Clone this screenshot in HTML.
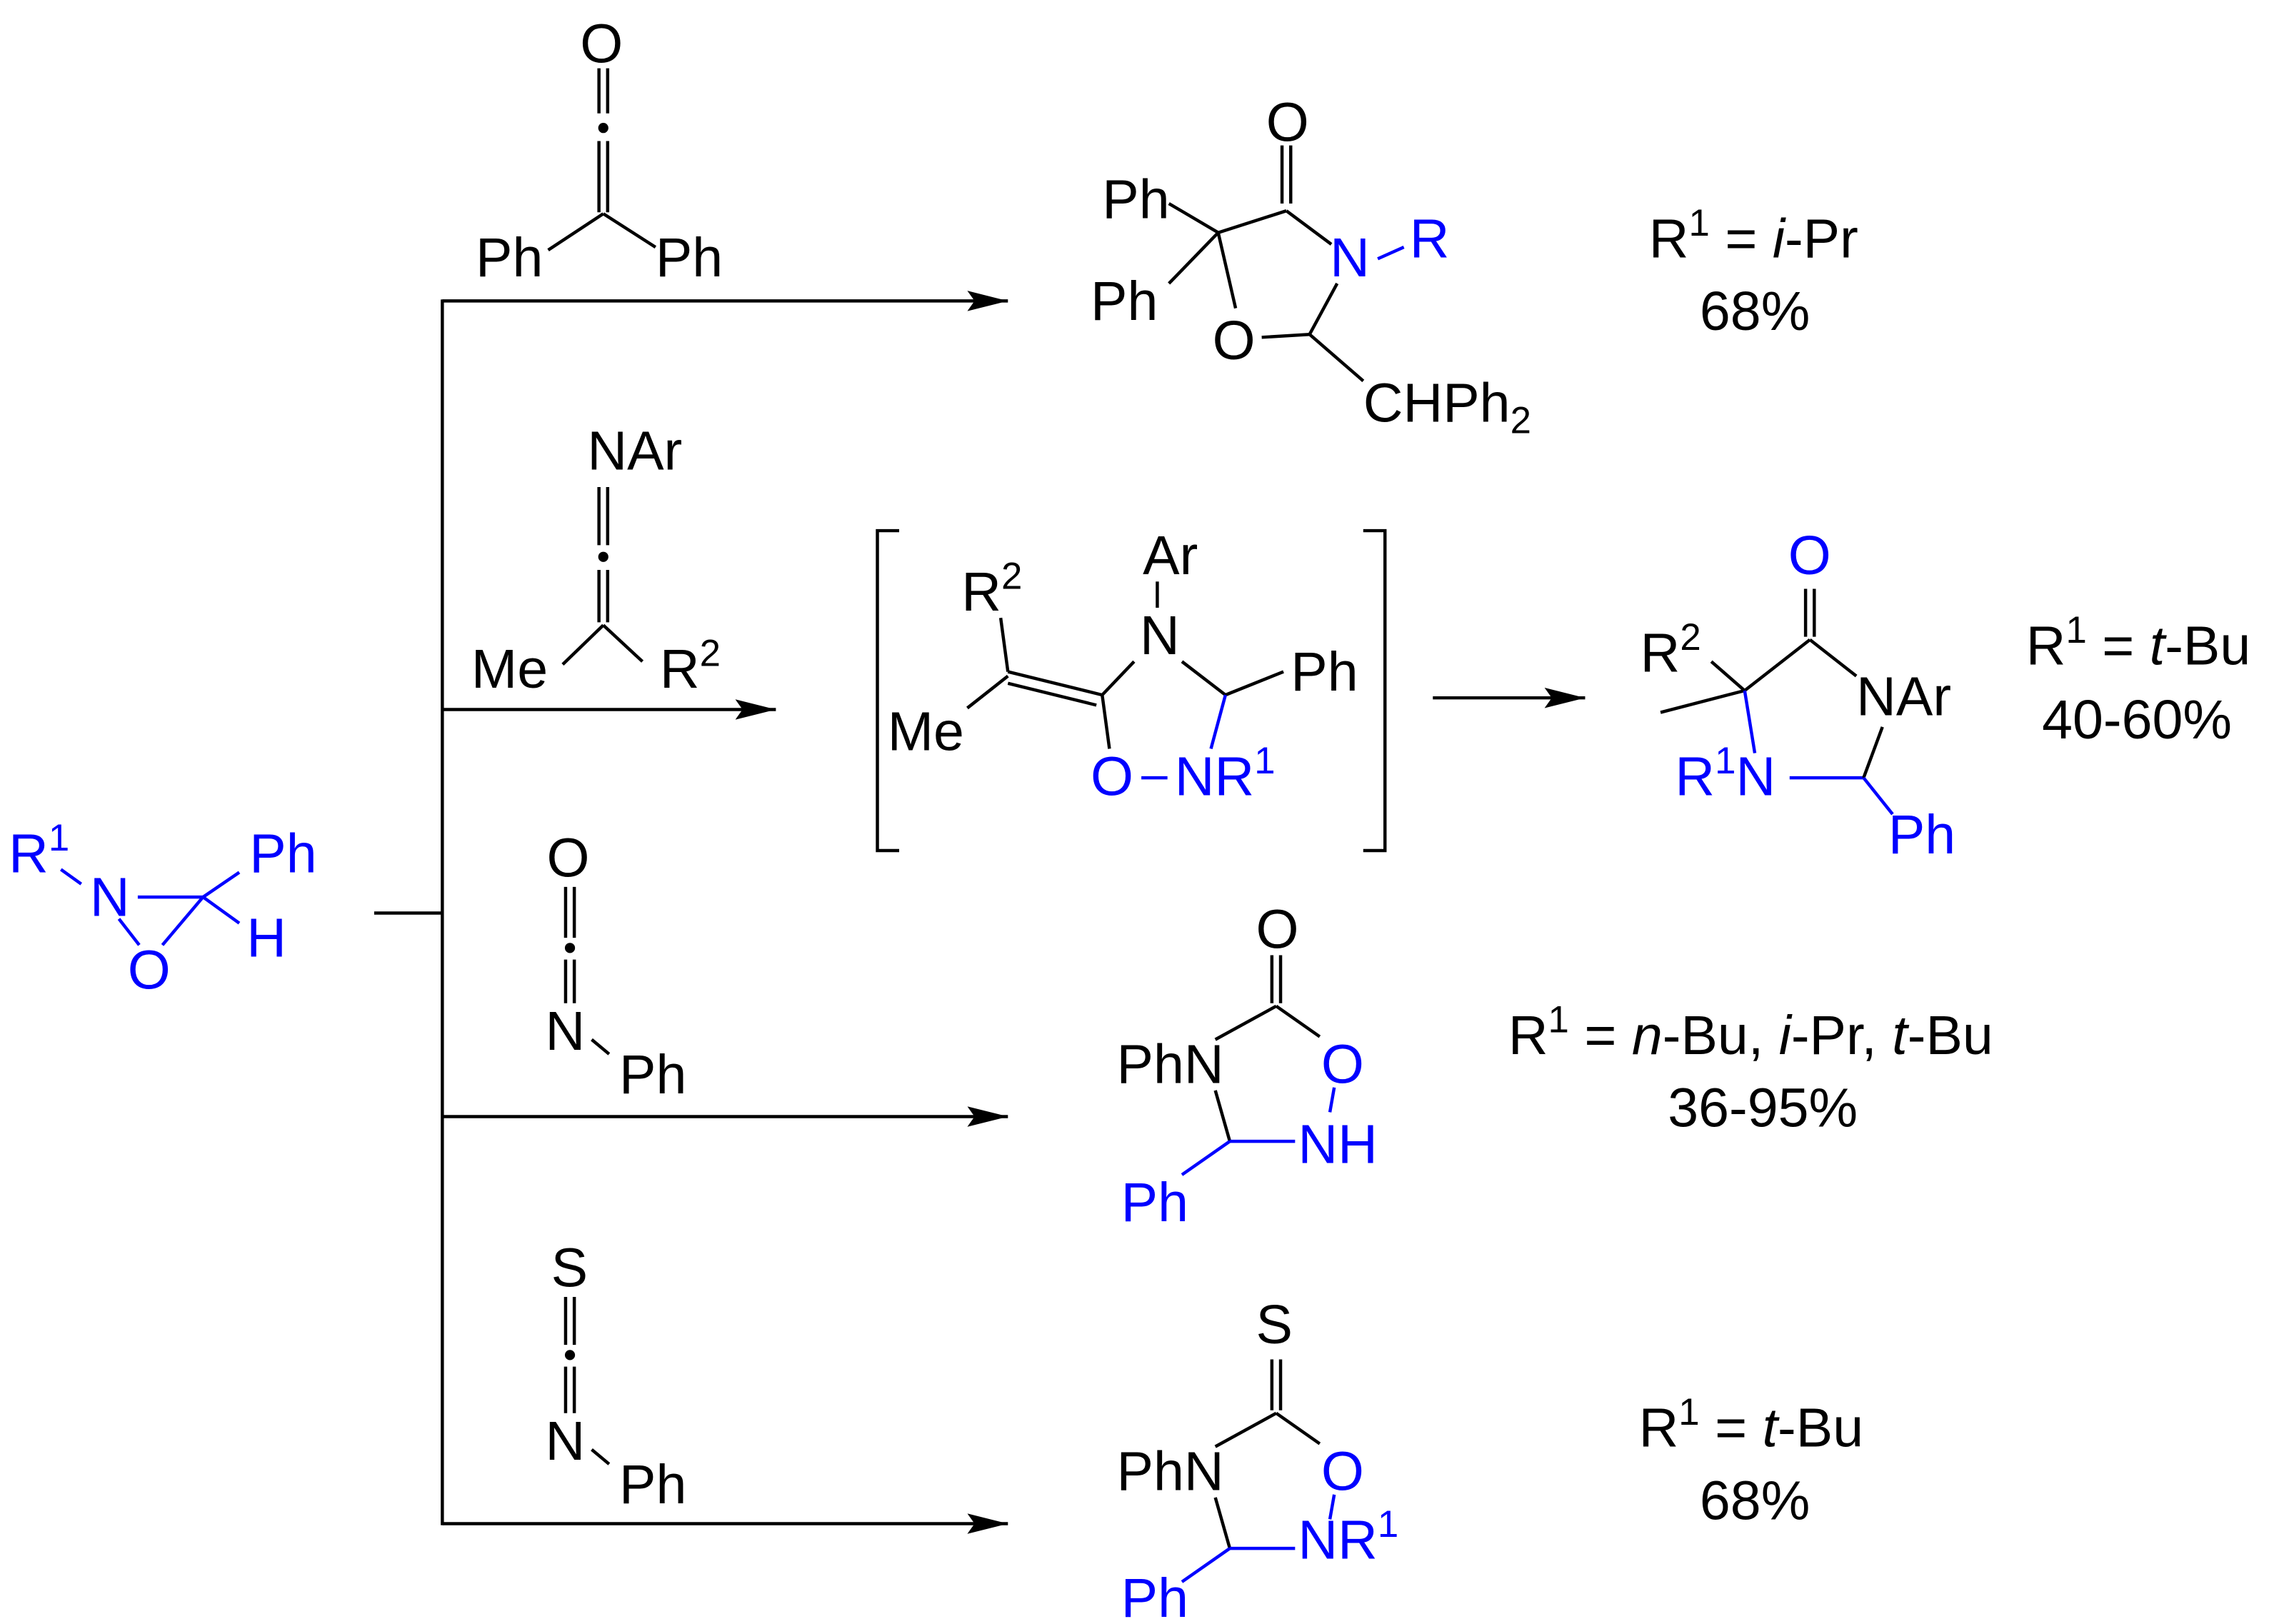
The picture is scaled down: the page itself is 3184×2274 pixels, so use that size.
<!DOCTYPE html>
<html><head><meta charset="utf-8"><style>html,body{margin:0;padding:0;background:#fff}svg{display:block}</style></head>
<body>
<svg width="3184" height="2274" viewBox="0 0 1568 1117" preserveAspectRatio="none" xmlns="http://www.w3.org/2000/svg" font-family="Liberation Sans, Arial, sans-serif" font-size="38">
<defs><marker id="ah" markerWidth="30" markerHeight="14" refX="28" refY="7" orient="auto" markerUnits="userSpaceOnUse"><path d="M0,0 L28,7 L0,14 L5,7 Z" fill="#000"/></marker></defs>
<g stroke="#000" stroke-width="2.2" fill="none">
<line x1="258" y1="628" x2="305" y2="628"/>
<line x1="305" y1="206" x2="305" y2="1049"/>
<line x1="305" y1="207" x2="695" y2="207" marker-end="url(#ah)"/>
<line x1="305" y1="488" x2="535" y2="488" marker-end="url(#ah)"/>
<line x1="305" y1="768" x2="695" y2="768" marker-end="url(#ah)"/>
<line x1="305" y1="1048" x2="695" y2="1048" marker-end="url(#ah)"/>
<line x1="988" y1="480" x2="1093" y2="480" marker-end="url(#ah)"/>
<line x1="413" y1="47" x2="413" y2="78"/><line x1="419" y1="47" x2="419" y2="78"/>
<line x1="413" y1="97" x2="413" y2="146"/><line x1="419" y1="97" x2="419" y2="146"/>
<line x1="416" y1="147" x2="378" y2="172"/><line x1="416" y1="147" x2="452" y2="170"/>
<line x1="413" y1="335" x2="413" y2="375"/><line x1="419" y1="335" x2="419" y2="375"/>
<line x1="413" y1="392" x2="413" y2="428"/><line x1="419" y1="392" x2="419" y2="428"/>
<line x1="416" y1="430" x2="388" y2="457"/><line x1="416" y1="430" x2="443" y2="455"/>
<line x1="390" y1="610" x2="390" y2="645"/><line x1="396" y1="610" x2="396" y2="645"/>
<line x1="390" y1="660" x2="390" y2="690"/><line x1="396" y1="660" x2="396" y2="690"/>
<line x1="408" y1="715" x2="420" y2="725"/>
<line x1="390" y1="892" x2="390" y2="925"/><line x1="396" y1="892" x2="396" y2="925"/>
<line x1="390" y1="940" x2="390" y2="972"/><line x1="396" y1="940" x2="396" y2="972"/>
<line x1="408" y1="997" x2="420" y2="1007"/>
<line x1="884" y1="100" x2="884" y2="140"/><line x1="890" y1="100" x2="890" y2="140"/>
<line x1="887" y1="145" x2="918" y2="168"/>
<line x1="887" y1="145" x2="840" y2="160"/>
<line x1="840" y1="160" x2="806" y2="140"/><line x1="840" y1="160" x2="806" y2="195"/>
<line x1="840" y1="160" x2="852" y2="212"/>
<line x1="870" y1="232" x2="903" y2="230"/>
<line x1="903" y1="230" x2="922" y2="195"/>
<line x1="903" y1="230" x2="940" y2="262"/>
<line x1="950" y1="178" x2="968" y2="170" stroke="#00f"/>
<polyline points="620,365 605,365 605,585 620,585"/>
<polyline points="940,365 955,365 955,585 940,585"/>
<line x1="690" y1="425" x2="695" y2="462"/>
<line x1="695" y1="462" x2="760" y2="478"/><line x1="695" y1="470" x2="756" y2="485"/>
<line x1="695" y1="465" x2="667" y2="487"/>
<line x1="760" y1="478" x2="782" y2="455"/>
<line x1="798" y1="400" x2="798" y2="418"/>
<line x1="815" y1="455" x2="845" y2="478"/>
<line x1="845" y1="478" x2="885" y2="462"/>
<line x1="845" y1="478" x2="835" y2="515" stroke="#00f"/>
<line x1="760" y1="478" x2="765" y2="515"/>
<line x1="787" y1="535" x2="805" y2="535" stroke="#00f"/>
<line x1="1245" y1="405" x2="1245" y2="438"/><line x1="1251" y1="405" x2="1251" y2="438"/>
<line x1="1248" y1="440" x2="1280" y2="465"/>
<line x1="1248" y1="440" x2="1203" y2="475"/>
<line x1="1203" y1="475" x2="1180" y2="455"/>
<line x1="1203" y1="475" x2="1145" y2="490"/>
<line x1="1203" y1="475" x2="1210" y2="518" stroke="#00f"/>
<line x1="1234" y1="535" x2="1285" y2="535" stroke="#00f"/>
<line x1="1285" y1="535" x2="1298" y2="500"/>
<line x1="1285" y1="535" x2="1305" y2="560" stroke="#00f"/>
<line x1="877" y1="657" x2="877" y2="690"/><line x1="883" y1="657" x2="883" y2="690"/>
<line x1="880" y1="692" x2="838" y2="715"/>
<line x1="880" y1="692" x2="910" y2="713"/>
<line x1="838" y1="750" x2="848" y2="785"/>
<line x1="848" y1="785" x2="893" y2="785" stroke="#00f"/>
<line x1="848" y1="785" x2="815" y2="808" stroke="#00f"/>
<line x1="920" y1="748" x2="917" y2="765" stroke="#00f"/>
<line x1="877" y1="935" x2="877" y2="970"/><line x1="883" y1="935" x2="883" y2="970"/>
<line x1="880" y1="972" x2="838" y2="995"/>
<line x1="880" y1="972" x2="910" y2="993"/>
<line x1="838" y1="1030" x2="848" y2="1065"/>
<line x1="848" y1="1065" x2="893" y2="1065" stroke="#00f"/>
<line x1="848" y1="1065" x2="815" y2="1088" stroke="#00f"/>
<line x1="920" y1="1028" x2="917" y2="1045" stroke="#00f"/>
<g stroke="#00f">
<line x1="42" y1="598" x2="56" y2="608"/>
<line x1="95" y1="617" x2="140" y2="617"/>
<line x1="82" y1="632" x2="96" y2="650"/>
<line x1="112" y1="650" x2="140" y2="617"/>
<line x1="140" y1="617" x2="165" y2="600"/>
<line x1="140" y1="617" x2="165" y2="635"/>
</g>
</g>
<g fill="#000">
<circle cx="416" cy="88" r="3.5"/><circle cx="416" cy="383" r="3.5"/><circle cx="393" cy="652" r="3.5"/><circle cx="393" cy="932" r="3.5"/>
<text x="400" y="43">O</text>
<text x="328" y="190">Ph</text><text x="452" y="190">Ph</text>
<text x="405" y="323">NAr</text>
<text x="325" y="473">Me</text><text x="455" y="473">R<tspan font-size="26" dy="-15">2</tspan></text>
<text x="377" y="603">O</text>
<text x="376" y="722">N</text><text x="427" y="752">Ph</text>
<text x="380" y="885">S</text>
<text x="376" y="1004">N</text><text x="427" y="1034">Ph</text>
<text x="873" y="97">O</text>
<text x="760" y="150">Ph</text><text x="752" y="220">Ph</text>
<text x="836" y="247">O</text>
<text x="940" y="290">CHPh<tspan font-size="26" dy="8">2</tspan></text>
<text x="1137" y="177">R<tspan font-size="26" dy="-15">1</tspan><tspan dy="15"> = </tspan><tspan font-style="italic">i</tspan>-Pr</text>
<text x="1172" y="227">68%</text>
<text x="663" y="420">R<tspan font-size="26" dy="-15">2</tspan></text>
<text x="788" y="395">Ar</text>
<text x="786" y="450">N</text>
<text x="890" y="475">Ph</text>
<text x="612" y="516">Me</text>
<text x="1131" y="462">R<tspan font-size="26" dy="-15">2</tspan></text>
<text x="1280" y="492">NAr</text>
<text x="1397" y="457">R<tspan font-size="26" dy="-15">1</tspan><tspan dy="15"> = </tspan><tspan font-style="italic">t</tspan>-Bu</text>
<text x="1408" y="508">40-60%</text>
<text x="866" y="652">O</text>
<text x="770" y="745">PhN</text>
<text x="1040" y="725">R<tspan font-size="26" dy="-15">1</tspan><tspan dy="15"> = </tspan><tspan font-style="italic">n</tspan>-Bu, <tspan font-style="italic">i</tspan>-Pr, <tspan font-style="italic">t</tspan>-Bu</text>
<text x="1150" y="775">36-95%</text>
<text x="866" y="924">S</text>
<text x="770" y="1025">PhN</text>
<text x="1130" y="995">R<tspan font-size="26" dy="-15">1</tspan><tspan dy="15"> = </tspan><tspan font-style="italic">t</tspan>-Bu</text>
<text x="1172" y="1045">68%</text>
</g>
<g fill="#00f">
<text x="6" y="600">R<tspan font-size="26" dy="-15">1</tspan></text>
<text x="62" y="630">N</text>
<text x="88" y="680">O</text>
<text x="172" y="600">Ph</text>
<text x="170" y="658">H</text>
<text x="917" y="190">N</text>
<text x="972" y="177">R</text>
<text x="752" y="547">O</text><text x="810" y="547">NR<tspan font-size="26" dy="-15">1</tspan></text>
<text x="1233" y="395">O</text>
<text x="1155" y="547">R<tspan font-size="26" dy="-15">1</tspan><tspan dy="15">N</tspan></text>
<text x="1302" y="587">Ph</text>
<text x="911" y="745">O</text>
<text x="895" y="800">NH</text>
<text x="773" y="840">Ph</text>
<text x="911" y="1025">O</text>
<text x="895" y="1072">NR<tspan font-size="26" dy="-15">1</tspan></text>
<text x="773" y="1112">Ph</text>
</g>
</svg>
</body></html>
